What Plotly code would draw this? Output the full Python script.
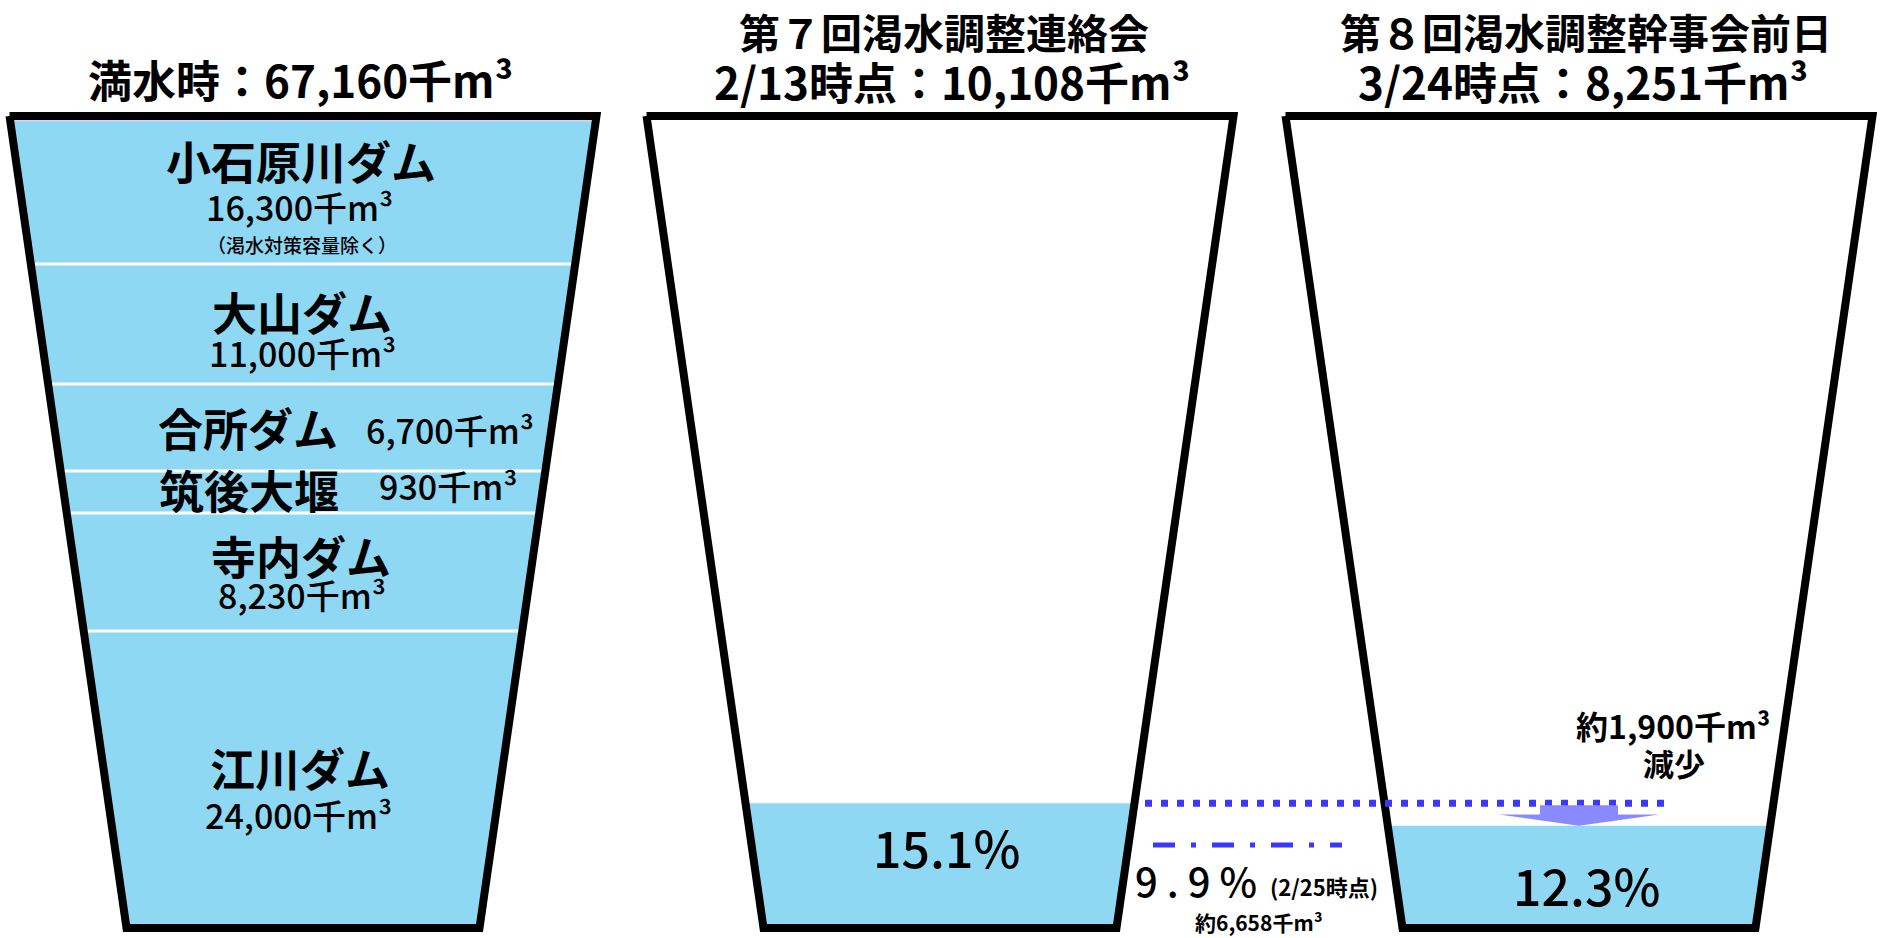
import plotly.graph_objects as go

# ---------------- data ----------------
dam_names = ["小石原川ダム", "大山ダム", "合所ダム", "筑後大堰", "寺内ダム", "江川ダム"]
dam_volumes = [16300, 11000, 6700, 930, 8230, 24000]          # 千m3
full_volume = 67160                                            # 千m3
full_rate = 100.0                                              # %
meeting_titles = ["第７回渇水調整連絡会", "第８回渇水調整幹事会前日"]
meeting_dates = ["2/13", "3/24"]
storage_volumes = [10108, 8251]                                # 千m3
storage_rates = [15.1, 12.3]                                   # %
mid_date = "2/25"
mid_rate = 9.9                                                 # %
mid_volume = 6658                                              # 千m3
decrease_volume = 1900                                         # 千m3

# ---------------- layout constants ----------------
W, H = 1883, 938
Y0_PX = 925.0          # pixel row of 0 %
PX_PER_PCT = 8.07
FONT = "Noto Sans CJK JP"
WATER = "#8ed8f4"
BLUE = "#3838ff"
ARROW = "#8a8aff"


def pct(y_px):
    return (Y0_PX - y_px) / PX_PER_PCT


def px(xp):
    return xp / W


def py(yp):
    return 1 - yp / H


centers = [303, 940, 1579]
TOP = pct(116)
BOT = pct(928)
HW_TOP, HW_BOT = 293.5, 176.5


def hw(p):
    return HW_BOT + (HW_TOP - HW_BOT) * (p - BOT) / (TOP - BOT)


fig = go.Figure()


def water(cx, level):
    xs = [cx - hw(BOT), cx + hw(BOT), cx + hw(level), cx - hw(level), cx - hw(BOT)]
    ys = [BOT, BOT, level, level, BOT]
    fig.add_trace(go.Scatter(x=xs, y=ys, mode="lines", fill="toself",
                             fillcolor=WATER, line=dict(width=0, color=WATER),
                             hoverinfo="skip", showlegend=False))


# water in the three containers
water(centers[0], full_rate)
for cx, r in zip(centers[1:], storage_rates):
    water(cx, r)

# lavender rim under the top of full container
lv = pct(120)
fig.add_trace(go.Scatter(x=[centers[0] - hw(lv) + 3, centers[0] + hw(lv) - 3], y=[lv, lv],
                         mode="lines", line=dict(color="#d6d2f4", width=3),
                         hoverinfo="skip", showlegend=False))

# white separators between dams (schematic positions)
band_edges_px = [264, 384, 471, 513, 631]
for e in band_edges_px:
    p = pct(e)
    fig.add_trace(go.Scatter(x=[centers[0] - hw(p) + 3, centers[0] + hw(p) - 3], y=[p, p],
                             mode="lines", line=dict(color="white", width=3),
                             hoverinfo="skip", showlegend=False))

# container outlines
for cx in centers:
    xs = [cx - hw(TOP), cx + hw(TOP), cx + hw(BOT), cx - hw(BOT), cx - hw(TOP)]
    ys = [TOP, TOP, BOT, BOT, TOP]
    fig.add_trace(go.Scatter(x=xs, y=ys, mode="lines",
                             line=dict(color="black", width=8),
                             hoverinfo="skip", showlegend=False))

# dotted line at 2/13 level, dash-dot line at 2/25 level
fig.add_trace(go.Scatter(x=[1145, 1665], y=[storage_rates[0]] * 2, mode="lines",
                         line=dict(color=BLUE, width=7, dash="7px,9px"),
                         hoverinfo="skip", showlegend=False))
fig.add_trace(go.Scatter(x=[1153, 1342], y=[mid_rate] * 2, mode="lines",
                         line=dict(color=BLUE, width=5, dash="22px,16px,5px,16px"),
                         hoverinfo="skip", showlegend=False))

# arrow from 2/13 level down to 3/24 level
a_top = storage_rates[0] - 0.25
a_tip = storage_rates[1]
a_head = a_tip + (a_top - a_tip) * 0.55
cx3 = centers[2]
ax = [cx3 - 39, cx3 + 39, cx3 + 39, cx3 + 80, cx3, cx3 - 80, cx3 - 39, cx3 - 39]
ay = [a_top, a_top, a_head, a_head, a_tip, a_head, a_head, a_top]
fig.add_trace(go.Scatter(x=ax, y=ay, mode="lines", fill="toself", fillcolor=ARROW,
                         line=dict(width=0, color=ARROW), hoverinfo="skip", showlegend=False))

# ---------------- texts ----------------
annotations = []


def ann(text, x, y, size, weight=700):
    annotations.append(dict(text=text, x=px(x), y=py(y), xref="paper", yref="paper",
                            xanchor="center", yanchor="middle", showarrow=False,
                            font=dict(family=FONT, size=size, color="black", weight=weight)))


def vol(v):
    return f"{v:,}千m³"


# titles
ann(f"満水時：{vol(full_volume)}", 300, 79, 44)
ann(meeting_titles[0], 944, 31, 41)
ann(f"{meeting_dates[0]}時点：{vol(storage_volumes[0])}", 952, 81, 44)
ann(meeting_titles[1], 1586, 31, 41)
ann(f"{meeting_dates[1]}時点：{vol(storage_volumes[1])}", 1583, 81, 44)

# dam labels (schematic positions)
name_pos = [(301, 161), (302, 312), (248, 428), (249, 489), (301, 555), (300, 767)]
vol_pos = [(299, 207), (302, 352), (450, 429), (448, 486), (302, 594), (298, 814)]
for n, v, (nx, ny), (vx, vy) in zip(dam_names, dam_volumes, name_pos, vol_pos):
    ann(n, nx, ny, 45)
    ann(vol(v), vx, vy, 34, 500)
ann("（渇水対策容量除く）", 302, 244, 19, 500)

# rates
ann(f"{storage_rates[0]}%", 946, 846, 50, 500)
ann(f"{storage_rates[1]}%", 1586, 884, 50, 500)
ann(" ".join(f"{mid_rate}%"), 1196, 880, 40, 500)
ann(f"({mid_date}時点)", 1324, 886, 22)
ann(f"約{mid_volume:,}千m³", 1259, 922, 21)
ann(f"約{decrease_volume:,}千m³", 1673, 725, 32)
ann("減少", 1674, 762, 31)

fig.update_layout(
    width=W, height=H,
    margin=dict(l=0, r=0, t=0, b=0),
    paper_bgcolor="white", plot_bgcolor="white",
    xaxis=dict(range=[0, W], visible=False, fixedrange=True),
    yaxis=dict(range=[pct(H), pct(0)], visible=False, fixedrange=True),
    showlegend=False,
    annotations=annotations,
)

fig.write_html("out.html", config={"displayModeBar": False},
               post_script="document.body.style.margin='0';document.body.style.overflow='hidden';")
